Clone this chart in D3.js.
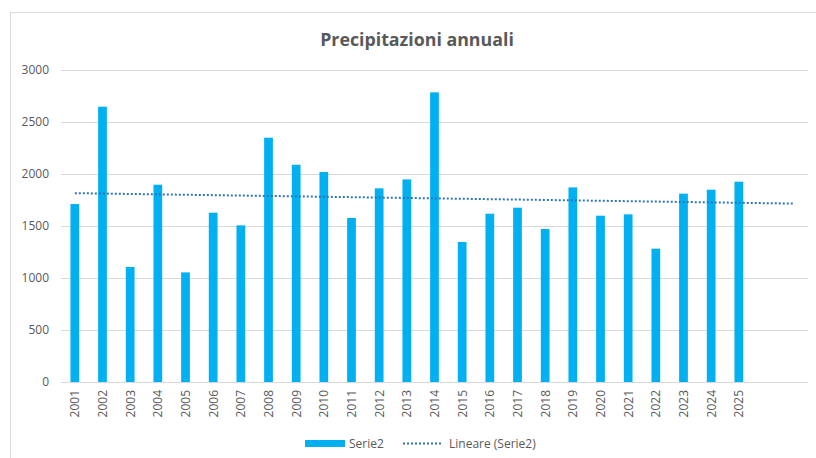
<!DOCTYPE html>
<html>
<head>
<meta charset="utf-8">
<script src="https://cdn.jsdelivr.net/npm/d3@7"></script>
<style>
  body { margin: 0; background: #fff; }
  text { font-family: "Open Sans", "Liberation Sans", sans-serif; fill: #595959; }
</style>
</head>
<body>
<div id="chart"></div>
<script>
// data
const years = ["2001","2002","2003","2004","2005","2006","2007","2008","2009","2010",
  "2011","2012","2013","2014","2015","2016","2017","2018","2019","2020",
  "2021","2022","2023","2024","2025","",""];
const serie2 = [1711, 2647, 1106, 1897, 1054, 1628, 1506, 2349, 2089, 2019,
  1577, 1862, 1948, 2785, 1346, 1618, 1676, 1471, 1871, 1599,
  1612, 1282, 1811, 1849, 1926, null, null];
const yTicks = [0, 500, 1000, 1500, 2000, 2500, 3000];
const chartTitle = "Precipitazioni annuali";
const legendLabels = ["Serie2", "Lineare (Serie2)"];

const width = 816, height = 458;
const margin = {top: 70, bottom: 76, left: 61, right: 8};
const barColor = "#00B0F0", trendColor = "#2E75B6", gridColor = "#d9d9d9";

const svg = d3.select("#chart").append("svg")
  .attr("width", width)
  .attr("height", height);

// outer chart border
svg.append("rect")
  .attr("x", 10.5).attr("y", 12.5)
  .attr("width", width).attr("height", height)
  .attr("fill", "none")
  .attr("stroke", gridColor);

const xScale = d3.scaleBand()
  .domain(d3.range(years.length))
  .range([margin.left, width - margin.right])
  .paddingInner(0.685)
  .paddingOuter(0.3425);

const yScale = d3.scaleLinear()
  .domain([0, 3000])
  .range([height - margin.bottom, margin.top]);

// grid
svg.append("g")
  .selectAll("line")
  .data(yTicks)
  .join("line")
  .attr("x1", margin.left)
  .attr("x2", width - margin.right)
  .attr("y1", d => Math.round(yScale(d)) + 0.5)
  .attr("y2", d => Math.round(yScale(d)) + 0.5)
  .attr("stroke", gridColor)
  .attr("stroke-width", 1.2);

// y labels
svg.append("g")
  .selectAll("text")
  .data(yTicks)
  .join("text")
  .attr("x", 49)
  .attr("y", d => yScale(d))
  .attr("dy", "0.35em")
  .attr("text-anchor", "end")
  .attr("font-size", 12)
  .text(d => d);

// bars
svg.append("g")
  .selectAll("rect")
  .data(serie2.map((v, i) => ({i, v})).filter(d => d.v != null))
  .join("rect")
  .attr("x", d => xScale(d.i))
  .attr("width", xScale.bandwidth())
  .attr("y", d => yScale(d.v))
  .attr("height", d => yScale(0) - yScale(d.v))
  .attr("fill", barColor);

// x labels
svg.append("g")
  .selectAll("text")
  .data(years)
  .join("text")
  .attr("transform", (d, i) => "translate(" + (xScale(i) + xScale.bandwidth() / 2 + 4.5) + "," + (yScale(0) + 8) + ") rotate(-90)")
  .attr("text-anchor", "end")
  .attr("font-size", 12)
  .text(d => d);

// linear trend (least squares on the series, extended over all categories)
const pts = serie2.map((v, i) => [i + 1, v]).filter(d => d[1] != null);
const mx = d3.mean(pts, d => d[0]), my = d3.mean(pts, d => d[1]);
const slope = d3.sum(pts, d => (d[0] - mx) * (d[1] - my)) / d3.sum(pts, d => (d[0] - mx) ** 2);
const intercept = my - slope * mx;
const cx = i => xScale(i) + xScale.bandwidth() / 2;
svg.append("line")
  .attr("x1", cx(0))
  .attr("x2", cx(years.length - 1))
  .attr("y1", yScale(intercept + slope * 1))
  .attr("y2", yScale(intercept + slope * years.length))
  .attr("stroke", trendColor)
  .attr("stroke-width", 2)
  .attr("stroke-dasharray", "2,2");

// title
svg.append("text")
  .attr("x", 417)
  .attr("y", 46)
  .attr("text-anchor", "middle")
  .attr("font-size", 17.8)
  .attr("font-weight", "bold")
  .text(chartTitle);

// legend
const lg = svg.append("g");
lg.append("rect")
  .attr("x", 305).attr("y", 440)
  .attr("width", 40).attr("height", 7)
  .attr("fill", barColor);
lg.append("text")
  .attr("x", 349).attr("y", 443.5).attr("dy", "0.35em")
  .attr("font-size", 12)
  .text(legendLabels[0]);
lg.append("line")
  .attr("x1", 403).attr("x2", 442)
  .attr("y1", 443.5).attr("y2", 443.5)
  .attr("stroke", trendColor)
  .attr("stroke-width", 2)
  .attr("stroke-dasharray", "2,2");
lg.append("text")
  .attr("x", 449).attr("y", 443.5).attr("dy", "0.35em")
  .attr("font-size", 12)
  .text(legendLabels[1]);
</script>
</body>
</html>
